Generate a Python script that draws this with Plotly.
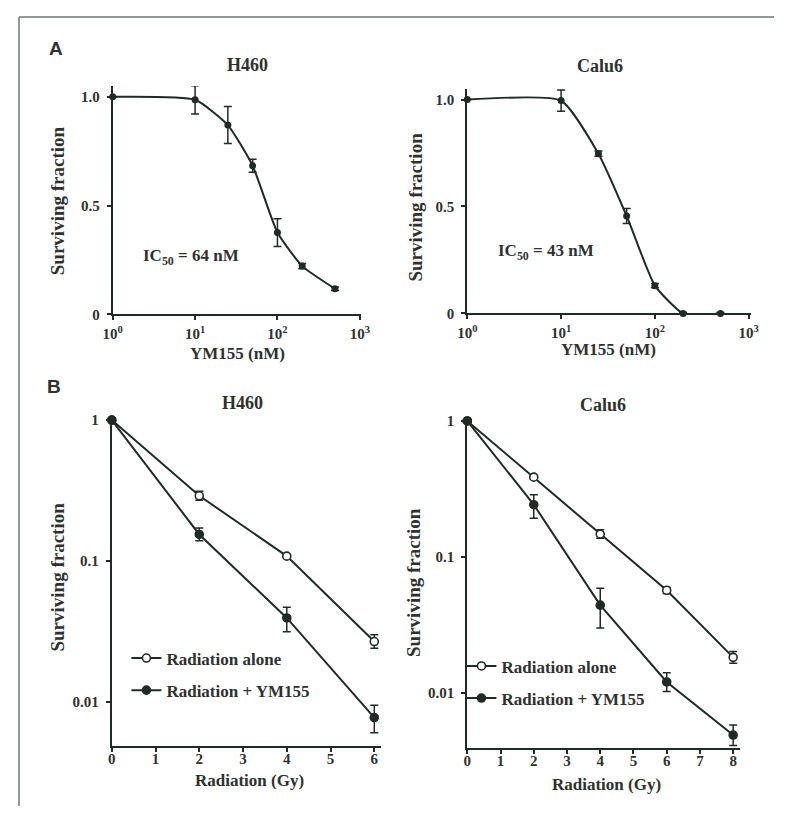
import plotly.graph_objects as go

# page is 790x822; the browser body keeps its default 8px margin,
# so the figure itself is 774x806 and sits at (8, 8).
PAGE_W, PAGE_H = 790, 822
OFF = 8
W, H = PAGE_W - 2 * OFF, PAGE_H - 2 * OFF

# ---------------- data ----------------
dose_nM = [1, 10, 25, 50, 100, 200, 500]
h460_sf = [1.0, 0.986, 0.87, 0.683, 0.376, 0.222, 0.118]
h460_err = [0.0, 0.065, 0.085, 0.03, 0.064, 0.012, 0.008]
calu6_sf = [1.0, 0.995, 0.747, 0.456, 0.13, 0.0, 0.0]
calu6_err = [0.0, 0.05, 0.012, 0.035, 0.01, 0.005, 0.005]

h460_gy = [0, 2, 4, 6]
h460_alone = [1.0, 0.29, 0.108, 0.0267]
h460_alone_up = [0.0, 0.022, 0.003, 0.0032]
h460_alone_dn = [0.0, 0.02, 0.003, 0.0028]
h460_ym = [1.0, 0.154, 0.0393, 0.0077]
h460_ym_up = [0.0, 0.017, 0.0076, 0.0017]
h460_ym_dn = [0.0, 0.015, 0.0079, 0.0017]

calu6_gy = [0, 2, 4, 6, 8]
calu6_alone = [1.0, 0.386, 0.147, 0.0567, 0.0182]
calu6_alone_up = [0.0, 0.01, 0.011, 0.003, 0.0019]
calu6_alone_dn = [0.0, 0.01, 0.01, 0.003, 0.0017]
calu6_ym = [1.0, 0.242, 0.0441, 0.012, 0.00488]
calu6_ym_up = [0.0, 0.044, 0.0145, 0.002, 0.0009]
calu6_ym_dn = [0.0, 0.05, 0.0141, 0.0018, 0.0008]

# ---------------- style ----------------
INK = "#1f2b25"
TXT = "#2e322f"
SERIF = "Liberation Serif, Times New Roman, serif"
SANS = "Liberation Sans, Arial, sans-serif"


def px(x):
    return (x - OFF) / W


def py(y):
    return 1 - (y - OFF) / H


fig = go.Figure()


def dose_trace(x, y, err, xa, ya):
    fig.add_trace(go.Scatter(
        x=x, y=y, mode="lines+markers", xaxis=xa, yaxis=ya,
        line=dict(color=INK, width=2, shape="spline", smoothing=0.5),
        marker=dict(symbol="circle", size=7, color=INK),
        error_y=dict(type="data", array=err, visible=True, color=INK,
                     thickness=1.5, width=4),
        showlegend=False, cliponaxis=False))


dose_trace(dose_nM, h460_sf, h460_err, "x", "y")
dose_trace(dose_nM, calu6_sf, calu6_err, "x2", "y2")


def rad_trace(x, y, up, dn, xa, ya, name, open_, legend, group):
    fig.add_trace(go.Scatter(
        x=x, y=y, mode="lines+markers", xaxis=xa, yaxis=ya, name=name,
        line=dict(color=INK, width=2),
        marker=dict(symbol="circle", size=8,
                    color="white" if open_ else INK,
                    line=dict(color=INK, width=1.6)),
        error_y=dict(type="data", array=up, arrayminus=dn, symmetric=False,
                     visible=True, color=INK, thickness=1.5, width=4),
        legend=legend, legendgroup=group, showlegend=True, cliponaxis=False))


rad_trace(h460_gy, h460_alone, h460_alone_up, h460_alone_dn, "x3", "y3",
          "Radiation alone", True, "legend", "a")
rad_trace(h460_gy, h460_ym, h460_ym_up, h460_ym_dn, "x3", "y3",
          "Radiation + YM155", False, "legend", "b")
rad_trace(calu6_gy, calu6_alone, calu6_alone_up, calu6_alone_dn, "x4", "y4",
          "Radiation alone", True, "legend2", "c")
rad_trace(calu6_gy, calu6_ym, calu6_ym_up, calu6_ym_dn, "x4", "y4",
          "Radiation + YM155", False, "legend2", "d")

tickfont = dict(family=SERIF, size=15, color=TXT, weight="bold")
axcommon = dict(showline=True, linecolor=INK, linewidth=2, showgrid=False,
                zeroline=False, ticks="outside", ticklen=4, tickwidth=1.5,
                tickcolor=INK, tickfont=tickfont, mirror=False)

dose_ticks = [1, 10, 100, 1000]
dose_ticktext = ["10<sup>0</sup>", "10<sup>1</sup>", "10<sup>2</sup>", "10<sup>3</sup>"]
sf_ticks = [0, 0.5, 1.0]
sf_ticktext = ["0", "0.5", "1.0"]
log_ticks = [0.01, 0.1, 1]
log_ticktext = ["0.01", "0.1", "1"]

fig.update_layout(
    width=W, height=H, margin=dict(l=0, r=0, t=0, b=0),
    paper_bgcolor="white", plot_bgcolor="rgba(0,0,0,0)",
    xaxis=dict(axcommon, type="log", range=[0, 3.02], domain=[px(105), px(359.6)],
               anchor="y", tickvals=dose_ticks, ticktext=dose_ticktext,
               ticklabelstandoff=1),
    yaxis=dict(axcommon, range=[0, 1.05], domain=[py(315), py(83)], anchor="x",
               tickvals=sf_ticks, ticktext=sf_ticktext, ticklabelstandoff=4),
    xaxis2=dict(axcommon, type="log", range=[0, 3.02], domain=[px(468), px(758)],
                anchor="y2", tickvals=dose_ticks, ticktext=dose_ticktext,
                ticklabelstandoff=1),
    yaxis2=dict(axcommon, range=[0, 1.05], domain=[py(314), py(86)], anchor="x2",
                tickvals=sf_ticks, ticktext=sf_ticktext, ticklabelstandoff=4),
    xaxis3=dict(axcommon, range=[0, 6.15], domain=[px(104), px(379.5)], anchor="y3",
                tickvals=list(range(0, 7)), ticktext=[str(i) for i in range(0, 7)],
                ticklabelstandoff=-6),
    yaxis3=dict(axcommon, type="log", range=[-2.315, 0.03], domain=[py(753), py(418)],
                anchor="x3", tickvals=log_ticks, ticktext=log_ticktext,
                ticklabelstandoff=4),
    xaxis4=dict(axcommon, range=[0, 8.2], domain=[px(468), px(747)], anchor="y4",
                tickvals=list(range(0, 9)), ticktext=[str(i) for i in range(0, 9)],
                ticklabelstandoff=-6),
    yaxis4=dict(axcommon, type="log", range=[-2.406, 0.03], domain=[py(755), py(419)],
                anchor="x4", tickvals=log_ticks, ticktext=log_ticktext,
                ticklabelstandoff=4),
    legend=dict(x=px(119), y=py(646), xanchor="left", yanchor="top",
                bgcolor="rgba(0,0,0,0)", tracegroupgap=7, itemwidth=30,
                font=dict(family=SERIF, size=17, color=TXT, weight="bold")),
    legend2=dict(x=px(462), y=py(654), xanchor="left", yanchor="top",
                 bgcolor="rgba(0,0,0,0)", tracegroupgap=7, itemwidth=30,
                 font=dict(family=SERIF, size=17, color=TXT, weight="bold")),
)

annots = []


def txt(text, x, y, size=17, family=SERIF, angle=0):
    annots.append(dict(text=text, x=px(x), y=py(y), xref="paper", yref="paper",
                       showarrow=False, xanchor="center", yanchor="middle",
                       textangle=angle,
                       font=dict(family=family, size=size, color=TXT, weight="bold")))


txt("A", 47, 45, size=19, family=SANS)
txt("B", 45, 388, size=19, family=SANS)
txt("H460", 243, 62, size=18)
txt("Calu6", 604, 63, size=18)
txt("H460", 238, 405, size=18)
txt("Calu6", 607, 407, size=18)
txt("Surviving fraction", 48, 200, size=19, angle=-90)
txt("Surviving fraction", 415, 206, size=19, angle=-90)
txt("Surviving fraction", 48, 582, size=19, angle=-90)
txt("Surviving fraction", 413, 587, size=19, angle=-90)
txt("YM155 (nM)", 233, 355)
txt("YM155 (nM)", 613, 351)
txt("Radiation (Gy)", 245, 788)
txt("Radiation (Gy)", 610, 792)
txt("IC<sub>50</sub> = 64 nM", 185, 257)
txt("IC<sub>50</sub> = 43 nM", 549, 252)
fig.update_layout(annotations=annots)

# frame lines of the figure
fig.add_shape(type="line", xref="paper", yref="paper", x0=px(9), x1=1, y0=py(13), y1=py(13),
              line=dict(color="#8e9994", width=2))
fig.add_shape(type="line", xref="paper", yref="paper", x0=px(9), x1=px(9), y0=py(13), y1=0,
              line=dict(color="#8e9994", width=2))

fig.write_html("out.html", config={"displayModeBar": False})
